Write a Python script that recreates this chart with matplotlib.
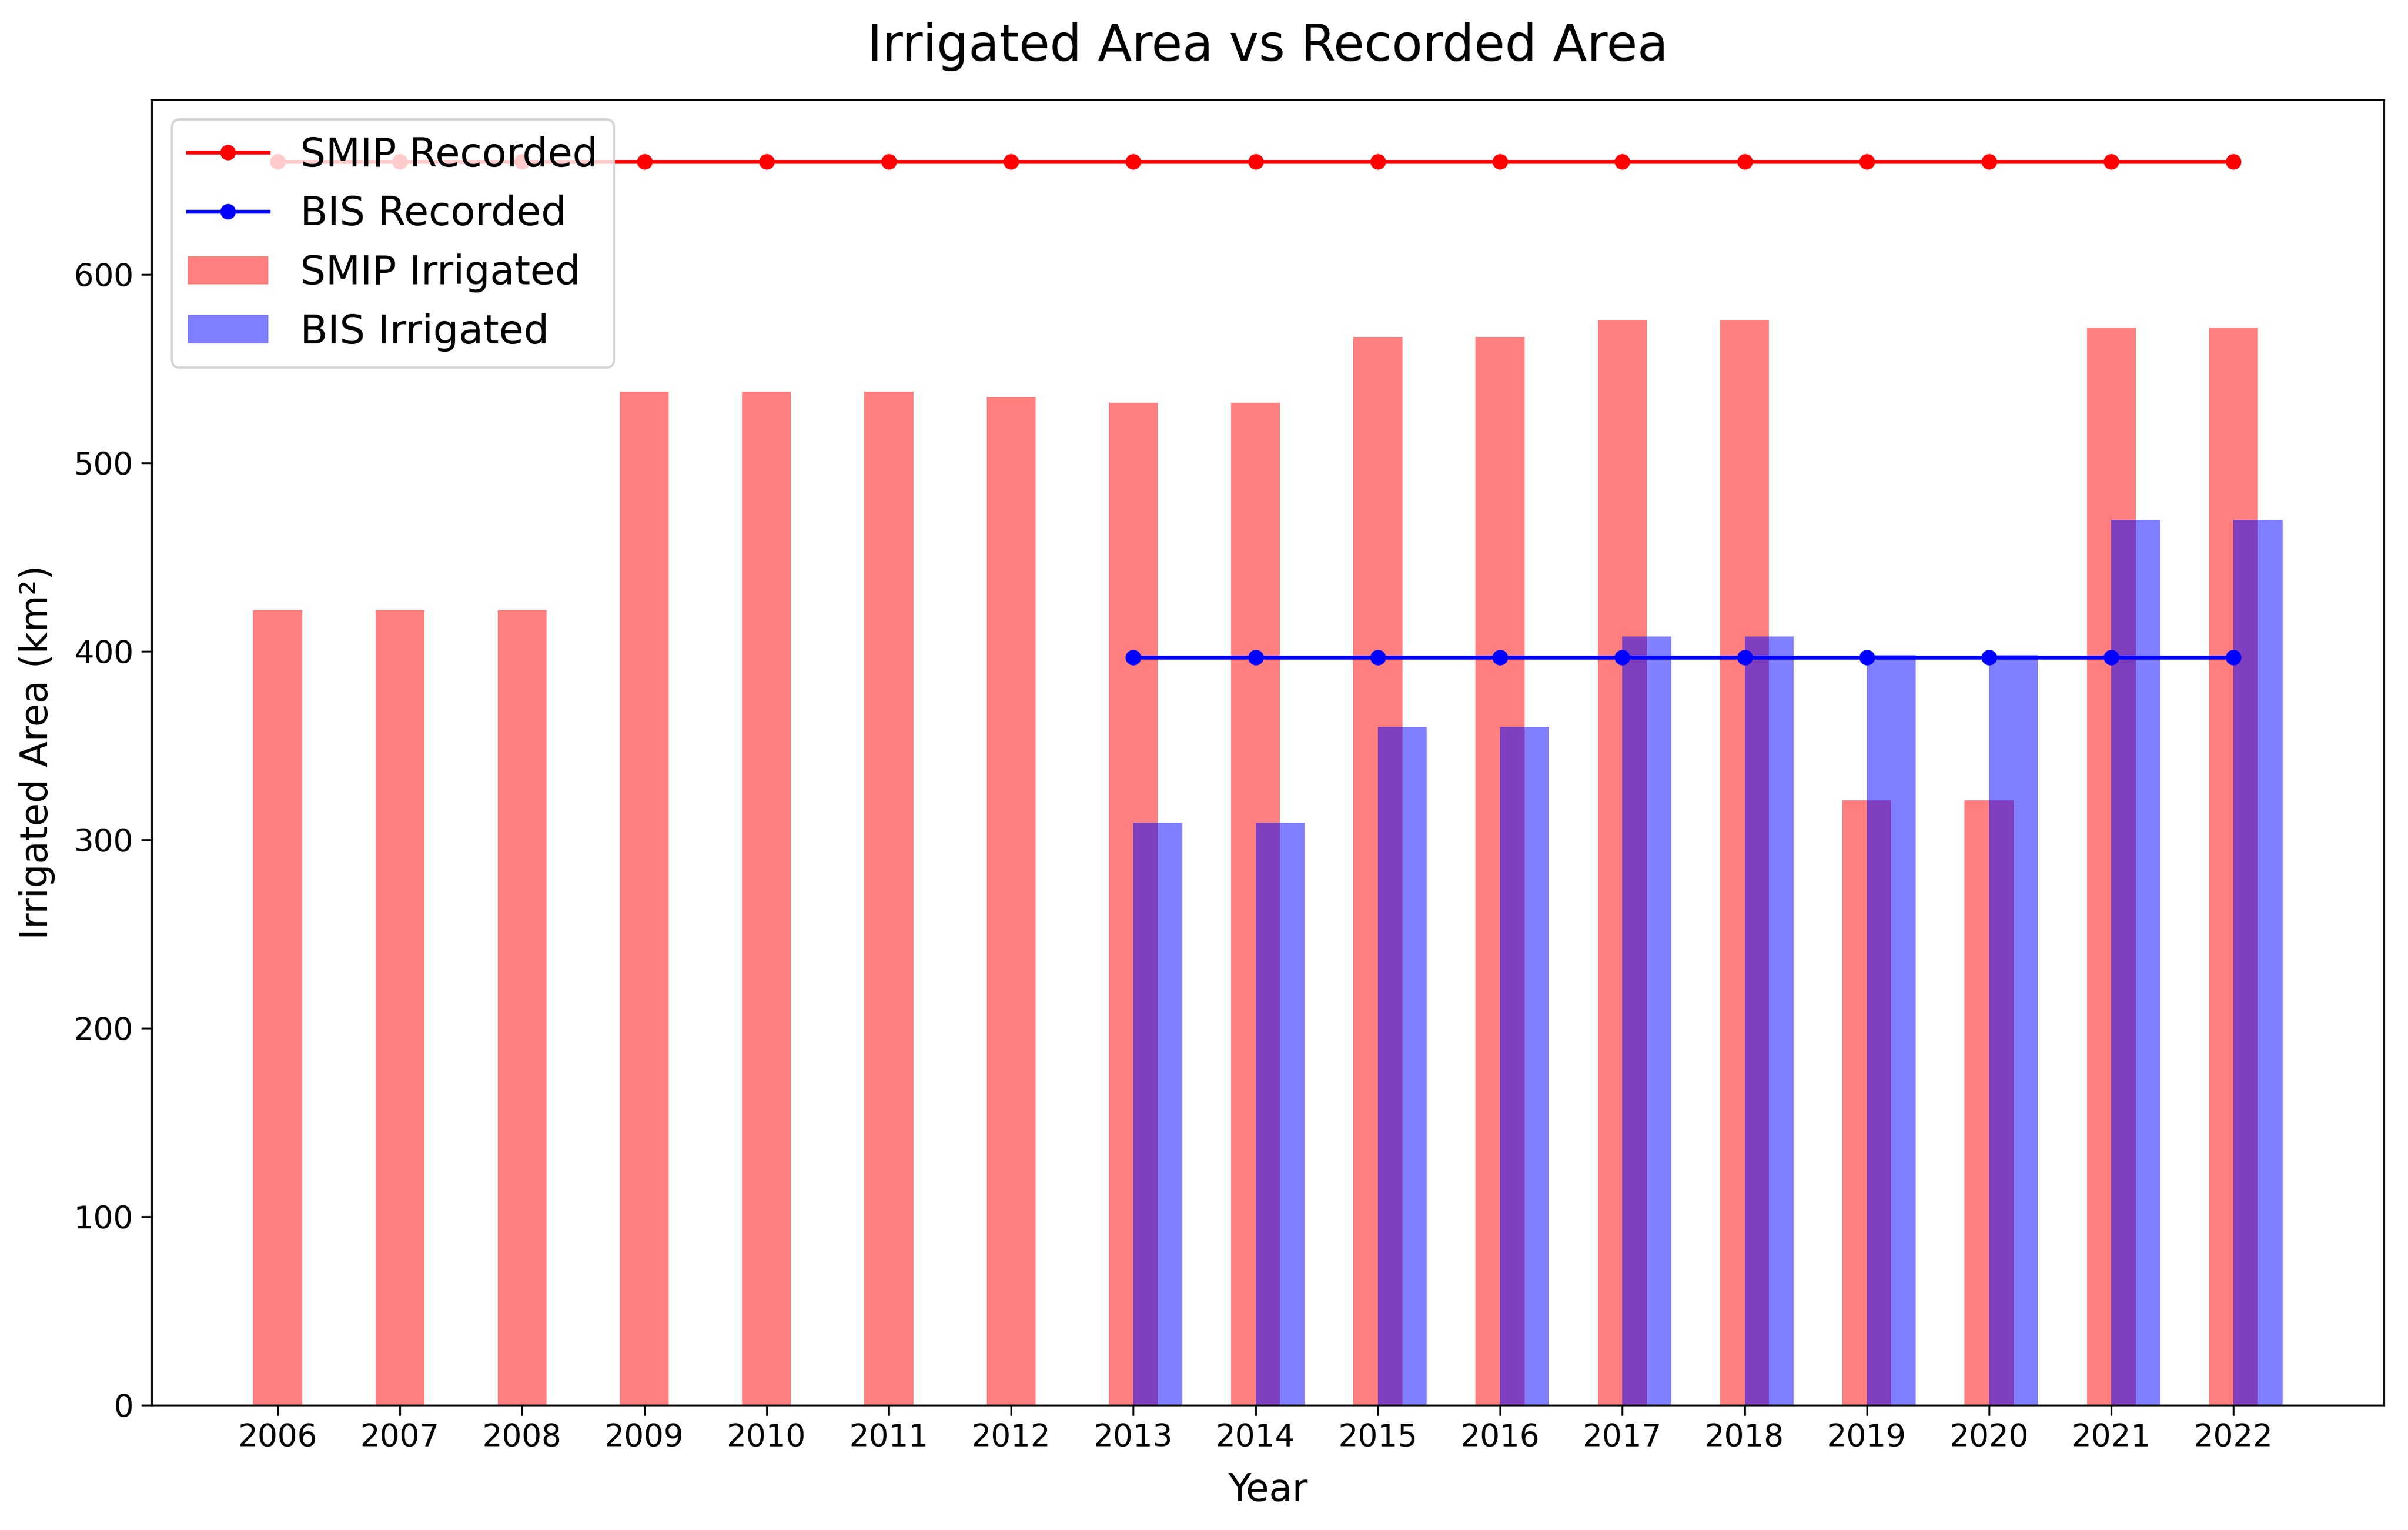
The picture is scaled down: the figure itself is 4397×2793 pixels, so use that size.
#!/usr/bin/env python3
import matplotlib
matplotlib.use("Agg")
import matplotlib.pyplot as plt
import numpy as np

# values
years = [2006, 2007, 2008, 2009, 2010, 2011, 2012, 2013, 2014,
         2015, 2016, 2017, 2018, 2019, 2020, 2021, 2022]
smip_irrigated = [422, 422, 422, 538, 538, 538, 535, 532, 532,
                  567, 567, 576, 576, 321, 321, 572, 572]
smip_recorded = [660] * 17

bis_years = [2013, 2014, 2015, 2016, 2017, 2018, 2019, 2020, 2021, 2022]
bis_irrigated = [309, 309, 360, 360, 408, 408, 398, 398, 470, 470]
bis_recorded = [397] * 10

def main():
    fig = plt.figure(figsize=(4397 / 300, 2793 / 300), dpi=300)
    ax = fig.add_subplot(111)
    fig.subplots_adjust(left=0.063, right=0.990, bottom=0.0816, top=0.935)

    x = np.array(years)
    xb = np.array(bis_years)

    # bars: SMIP centred on the year, BIS shifted right by half a bar
    ax.bar(x, smip_irrigated, width=0.4, color='red', alpha=0.5, label='SMIP Irrigated')
    ax.bar(xb + 0.2, bis_irrigated, width=0.4, color='blue', alpha=0.5, label='BIS Irrigated')

    ax.plot(x, smip_recorded, 'o-', color='red', lw=1.7, markersize=5.8, label='SMIP Recorded')
    ax.plot(xb, bis_recorded, 'o-', color='blue', lw=1.7, markersize=5.8, label='BIS Recorded')

    ax.set_xticks(years)
    ax.set_xticklabels([str(y) for y in years])
    ax.tick_params(axis='both', labelsize=13.7, length=4.5)
    ax.set_yticks([0, 100, 200, 300, 400, 500, 600])

    ax.set_title('Irrigated Area vs Recorded Area', fontsize=22, pad=17)
    ax.set_xlabel('Year', fontsize=16.5, labelpad=8)
    ax.set_ylabel('Irrigated Area (km²)', fontsize=16.5, labelpad=8)

    ax.legend(loc='upper left', fontsize=17.6)

    fig.savefig('out.png', dpi=300)
    plt.close(fig)

if __name__ == "__main__":
    main()
